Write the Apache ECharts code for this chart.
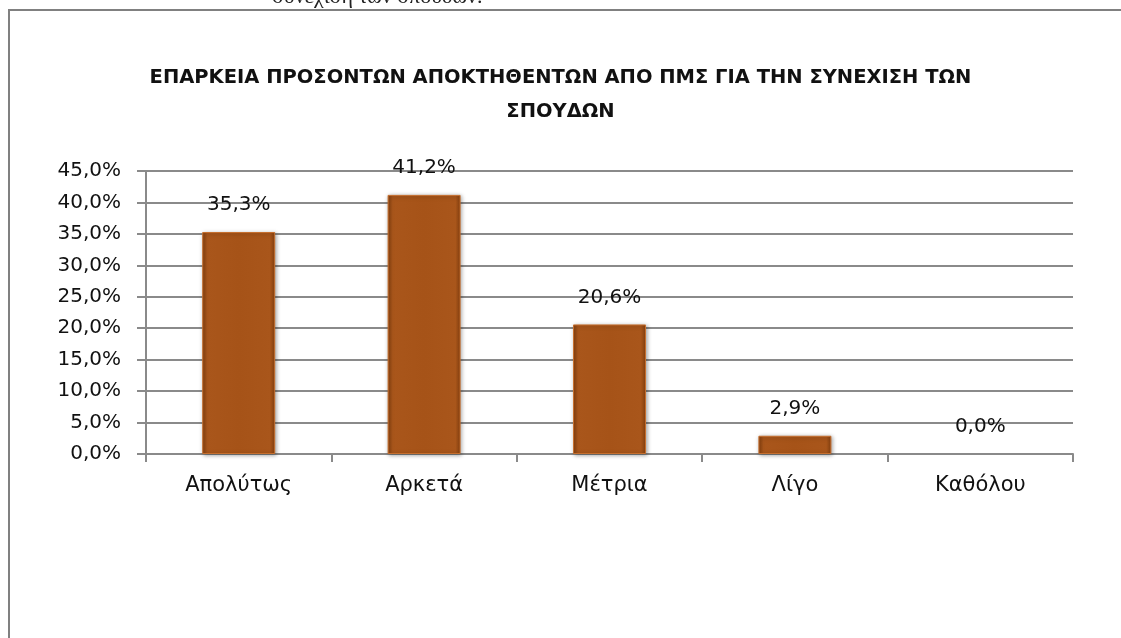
<!DOCTYPE html>
<html>
<head>
<meta charset="utf-8">
<script src="https://cdn.jsdelivr.net/npm/echarts@6/dist/echarts.min.js"></script>
<style>
  html, body { margin: 0; padding: 0; background: #fff; }
  #chart { width: 1121px; height: 638px; }
</style>
</head>
<body>
<div id="chart"></div>
<script>
const categories = ['Απολύτως', 'Αρκετά', 'Μέτρια', 'Λίγο', 'Καθόλου']
const values = [35.3, 41.2, 20.6, 2.9, 0.0]
const yTicks = [0, 5, 10, 15, 20, 25, 30, 35, 40, 45]

const titleText = 'ΕΠΑΡΚΕΙΑ ΠΡΟΣΟΝΤΩΝ ΑΠΟΚΤΗΘΕΝΤΩΝ ΑΠΟ ΠΜΣ ΓΙΑ ΤΗΝ ΣΥΝΕΧΙΣΗ ΤΩΝ\nΣΠΟΥΔΩΝ'
const pct = v => v.toFixed(1).replace('.', ',') + '%'

const chart = echarts.init(document.getElementById('chart'))

const barColor = new echarts.graphic.LinearGradient(0, 0, 1, 0, [
  { offset: 0, color: '#86400f' },
  { offset: 0.07, color: '#a9561b' },
  { offset: 0.5, color: '#a65318' },
  { offset: 0.93, color: '#a9561b' },
  { offset: 1, color: '#86400f' }
])

// zero bars get no border / shadow so nothing shows at the baseline
const barData = values.map(v => v === 0
  ? { value: v, itemStyle: { borderWidth: 0, shadowBlur: 0, shadowColor: 'transparent' } }
  : v)

const options = {
  backgroundColor: '#fff',
  animation: false,
  title: {
    text: titleText,
    left: 'center',
    top: 56,
    textStyle: {
      fontFamily: 'DejaVu Sans',
      fontWeight: 'bold',
      fontSize: 19.5,
      lineHeight: 34,
      color: '#111'
    }
  },
  graphic: [
    {
      type: 'rect',
      silent: true,
      shape: { x: 9, y: 10, width: 1300, height: 800 },
      style: { fill: 'none', stroke: '#808080', lineWidth: 2 }
    },
    {
      type: 'text',
      silent: true,
      left: 272,
      top: -14,
      style: {
        text: 'συνέχιση των σπουδών.',
        fontFamily: 'Liberation Serif',
        fontSize: 22,
        fill: '#222'
      }
    }
  ],
  grid: {
    left: 146,
    right: 48,
    top: 171,
    bottom: 184
  },
  xAxis: {
    type: 'category',
    data: categories,
    axisLine: { lineStyle: { color: '#8a8a8a', width: 2 } },
    axisTick: { show: true, length: 8, lineStyle: { color: '#8a8a8a', width: 2 } },
    axisLabel: {
      margin: 21,
      fontFamily: 'DejaVu Sans',
      fontSize: 21,
      color: '#111'
    }
  },
  yAxis: {
    type: 'value',
    min: 0,
    max: 45,
    interval: 5,
    axisLine: { show: true, lineStyle: { color: '#8a8a8a', width: 2 } },
    axisTick: { show: true, length: 9, lineStyle: { color: '#8a8a8a', width: 2 } },
    splitLine: { lineStyle: { color: '#8a8a8a', width: 2 } },
    axisLabel: {
      margin: 25,
      fontFamily: 'DejaVu Sans',
      fontSize: 20,
      color: '#111',
      formatter: v => yTicks.includes(v) ? pct(v) : ''
    }
  },
  series: [
    {
      type: 'bar',
      data: barData,
      barWidth: 73,
      itemStyle: {
        color: barColor,
        borderColor: '#c66f2e',
        borderWidth: 1,
        shadowColor: 'rgba(0,0,0,0.35)',
        shadowBlur: 4,
        shadowOffsetX: 1,
        shadowOffsetY: 1
      },
      label: {
        show: true,
        position: 'top',
        distance: 17,
        fontFamily: 'DejaVu Sans',
        fontSize: 20,
        color: '#111',
        formatter: p => pct(p.value)
      }
    }
  ]
}

chart.setOption(options)
</script>
</body>
</html>
